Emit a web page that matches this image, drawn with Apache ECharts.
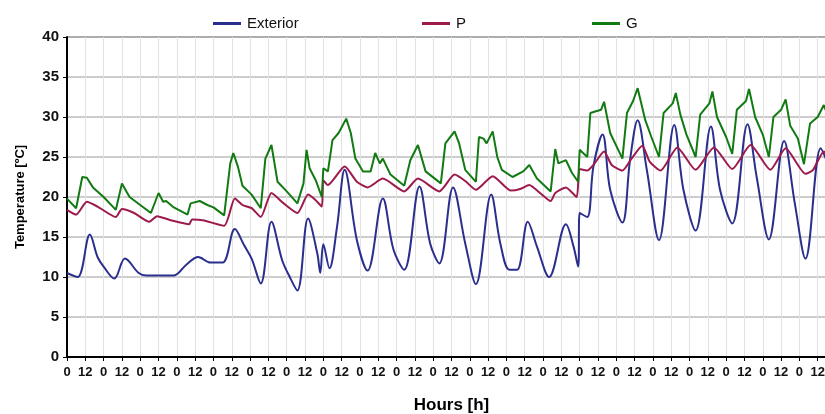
<!DOCTYPE html>
<html>
<head>
<meta charset="utf-8">
<script src="https://cdn.jsdelivr.net/npm/echarts@6/dist/echarts.min.js"></script>
<style>
  html, body { margin: 0; padding: 0; background: #fff; }
  #chart { width: 825px; height: 414px; }
</style>
</head>
<body>
<div id="chart"></div>
<script>
  // [hour, temperature]
  var exterior = [
    [0, 10.5], [7, 10.0], [15, 15.3], [20, 12.5], [24, 11.3], [31, 9.8], [38, 12.3], [47, 10.5],
    [52, 10.2], [70, 10.2], [78, 11.5], [86, 12.5], [94, 11.8], [102, 11.8], [110, 16.0], [116, 14.0],
    [121, 12.3], [127, 9.2], [134, 16.9], [141, 12.1], [146, 10.0], [151, 8.3], [158, 17.3], [164, 13.0],
    [166, 10.5], [168, 14.1], [172, 11.1], [177, 16.3], [182, 23.4], [190, 14.6], [197, 10.8], [207, 19.8],
    [214, 13.4], [221, 10.9], [231, 21.3], [238, 14.2], [244, 11.7], [253, 21.2], [261, 14.2], [268, 9.1],
    [278, 20.3], [284, 14.2], [290, 10.9], [295, 10.9], [302, 16.9], [308, 13.8], [316, 10.0], [327, 16.6],
    [332, 13.8], [335, 11.3], [336, 18.0], [341, 17.5], [345, 23.8], [351, 27.8], [356, 20.9], [364, 16.8],
    [369, 24.6], [374, 29.6], [380, 23.4], [388, 14.6], [398, 29.0], [404, 20.9], [412, 15.8], [422, 28.8],
    [428, 20.9], [436, 16.7], [446, 29.1], [452, 22.5], [460, 14.7], [470, 27.0], [477, 19.2], [484, 12.3],
    [494, 26.1], [498, 24.5]
  ];

  var roomP = [
    [0, 18.4], [6, 17.8], [13, 19.4], [20, 18.8], [32, 17.5], [36, 18.5], [44, 18.0], [54, 16.9],
    [59, 17.6], [68, 17.1], [80, 16.6], [82, 17.2], [89, 17.1], [103, 16.4], [110, 19.8], [115, 19.0],
    [121, 18.6], [127, 17.5], [134, 20.5], [142, 19.2], [151, 18.0], [158, 20.3], [163, 19.6], [167, 18.8],
    [168, 22.1], [171, 21.5], [182, 23.8], [190, 21.9], [197, 21.2], [207, 22.3], [221, 20.7], [230, 22.3],
    [244, 20.7], [254, 22.8], [261, 22.0], [268, 20.9], [279, 22.6], [291, 20.8], [297, 21.0], [303, 21.5],
    [310, 20.5], [317, 19.5], [320, 20.5], [327, 21.2], [334, 20.0], [336, 23.5], [341, 23.3], [345, 24.0],
    [352, 25.7], [357, 24.0], [364, 23.3], [370, 24.8], [377, 26.4], [382, 24.4], [389, 23.3], [400, 26.2],
    [412, 23.4], [424, 26.2], [436, 23.5], [448, 26.5], [461, 23.4], [471, 26.1], [484, 22.9], [489, 23.4],
    [496, 25.7], [498, 25.3]
  ];

  var roomG = [
    [0, 19.8], [6, 18.6], [10, 22.5], [13, 22.4], [17, 21.2], [24, 20.0], [30, 18.8], [32, 18.4],
    [36, 21.7], [41, 20.0], [48, 19.0], [55, 18.0], [60, 20.5], [63, 19.4], [65, 19.5], [70, 18.7],
    [79, 17.8], [81, 19.2], [87, 19.5], [92, 19.0], [96, 18.7], [103, 17.7], [107, 24.2], [109, 25.5],
    [112, 23.8], [115, 21.4], [121, 20.3], [127, 18.6], [130, 24.8], [134, 26.5], [138, 21.9], [144, 20.7],
    [151, 19.2], [155, 21.7], [157, 25.9], [159, 23.6], [163, 22.1], [167, 20.0], [168, 23.6], [171, 23.2],
    [174, 27.1], [178, 28.0], [183, 29.8], [186, 28.0], [189, 24.8], [194, 23.2], [199, 23.2], [202, 25.5],
    [205, 24.2], [207, 24.8], [212, 22.8], [221, 21.4], [225, 24.6], [230, 26.5], [235, 23.2], [245, 21.7],
    [248, 26.7], [254, 28.2], [257, 26.7], [261, 23.4], [268, 21.9], [270, 27.5], [273, 27.3], [275, 26.7],
    [279, 28.2], [282, 25.0], [285, 23.4], [292, 22.5], [299, 23.2], [303, 24.0], [308, 22.3], [317, 20.7],
    [320, 26.0], [322, 24.2], [327, 24.6], [331, 23.0], [335, 21.9], [336, 25.9], [341, 25.0], [343, 30.5],
    [350, 30.9], [352, 31.9], [356, 28.0], [364, 24.8], [367, 30.5], [371, 32.0], [374, 33.6], [379, 29.6],
    [383, 27.5], [388, 25.0], [391, 30.5], [397, 31.7], [399, 33.0], [402, 30.3], [406, 27.8], [412, 25.0],
    [415, 30.3], [421, 31.7], [423, 33.2], [426, 30.0], [432, 27.5], [436, 25.4], [439, 30.9], [445, 32.0],
    [447, 33.5], [451, 30.0], [456, 27.8], [460, 25.0], [463, 30.0], [468, 30.9], [471, 32.2], [474, 28.9],
    [479, 27.3], [483, 24.1], [487, 29.2], [492, 30.0], [496, 31.5], [498, 30.5]
  ];

  var seriesNames = ['Exterior', 'P', 'G'];
  var seriesColors = ['#2a2f8e', '#9c1a4c', '#127a12'];

  var chart = echarts.init(document.getElementById('chart'));
  var font = '"Liberation Sans", Arial, sans-serif';

  function legendFor(name, left) {
    return {
      data: [name],
      left: left,
      top: 11,
      icon: 'rect',
      itemWidth: 28,
      itemHeight: 3,
      itemGap: 0,
      textStyle: { fontFamily: font, fontSize: 15, color: '#111', padding: [0, 0, 0, 1] }
    };
  }

  chart.setOption({
    animation: false,
    legend: [
      legendFor('Exterior', 208),
      legendFor('P', 417),
      legendFor('G', 587)
    ],
    grid: {
      left: 67,
      top: 37,
      bottom: 57,
      right: -11,
      outerBoundsMode: 'none',
      containLabel: false,
      show: true,
      borderColor: '#000',
      borderWidth: 1
    },
    xAxis: {
      type: 'value',
      min: 0,
      max: 504,
      interval: 12,
      name: 'Hours [h]',
      nameLocation: 'middle',
      nameGap: 40,
      nameTextStyle: { fontFamily: font, fontSize: 17, fontWeight: 'bold', color: '#000' },
      axisLine: { lineStyle: { color: '#000', width: 2 } },
      axisTick: { show: true, length: 4, lineStyle: { color: '#000' } },
      axisLabel: {
        fontFamily: font,
        fontSize: 13,
        fontWeight: 'bold',
        color: '#111',
        margin: 9,
        formatter: function (v) { return String(v % 24); }
      },
      splitLine: { show: true, lineStyle: { color: '#e2e2e2', width: 1 } }
    },
    yAxis: {
      type: 'value',
      min: 0,
      max: 40,
      interval: 5,
      name: 'Temperature [ºC]',
      nameLocation: 'middle',
      nameGap: 40,
      nameTextStyle: { fontFamily: font, fontSize: 13, fontWeight: 'bold', color: '#000' },
      axisLine: { show: true, lineStyle: { color: '#000', width: 2 } },
      axisTick: { show: true, length: 4, lineStyle: { color: '#000' } },
      axisLabel: { fontFamily: font, fontSize: 15, fontWeight: 'bold', color: '#111', margin: 8 },
      splitLine: { show: true, lineStyle: { color: '#bdbdbd', width: 1.5 } }
    },
    series: [
      {
        name: seriesNames[0],
        type: 'line',
        data: exterior,
        symbol: 'none',
        smooth: 0.35,
        color: seriesColors[0],
        lineStyle: { width: 2 }
      },
      {
        name: seriesNames[1],
        type: 'line',
        data: roomP,
        symbol: 'none',
        smooth: 0.2,
        color: seriesColors[1],
        lineStyle: { width: 2 }
      },
      {
        name: seriesNames[2],
        type: 'line',
        data: roomG,
        symbol: 'none',
        color: seriesColors[2],
        lineStyle: { width: 2 }
      }
    ]
  });
</script>
</body>
</html>
